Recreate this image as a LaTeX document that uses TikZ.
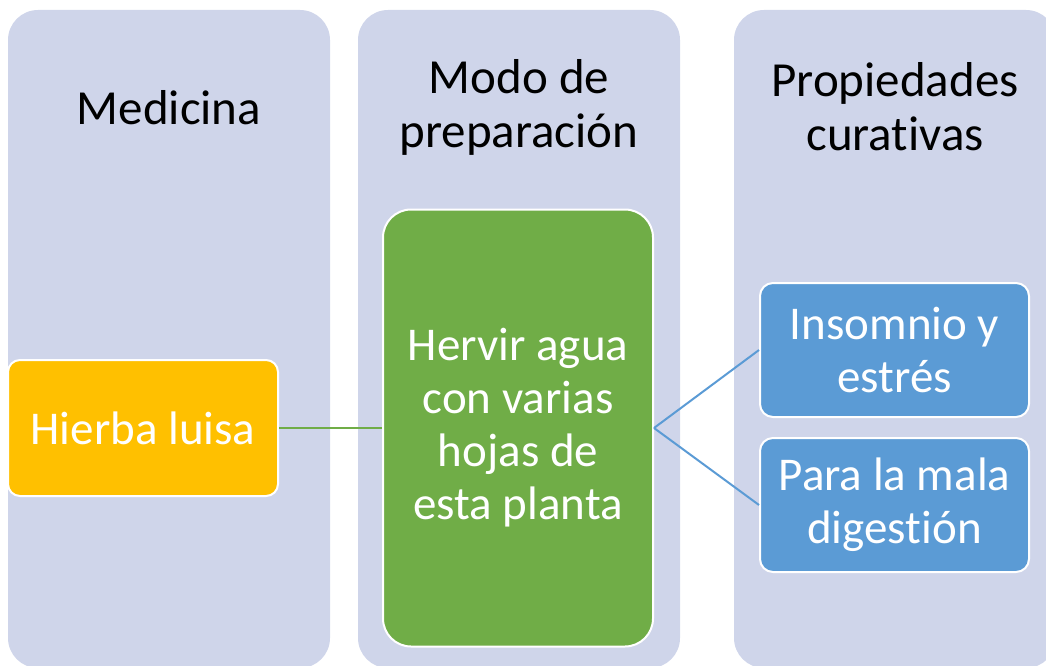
\documentclass[tikz,border=0pt]{standalone}
\usepackage{fontspec}
\setmainfont[Ligatures={NoCommon}]{Carlito}
\definecolor{colbg}{HTML}{CFD5EA}
\definecolor{yel}{HTML}{FFC000}
\definecolor{grn}{HTML}{70AD47}
\definecolor{blu}{HTML}{5B9BD5}
\tikzset{
  column/.style={fill=colbg, draw=none, rounded corners=30pt},
  header/.style={align=center, text=black, font=\fontsize{49}{54}\selectfont, inner sep=0pt},
  box/.style={draw=white, line width=2pt, align=center, text=white,
    font=\fontsize{47}{53}\selectfont, inner sep=0pt, minimum width=270pt},
  yelbox/.style={box, fill=yel, rounded corners=12pt, minimum height=136pt},
  grnbox/.style={box, fill=grn, rounded corners=28pt, minimum height=437pt},
  blubox/.style={box, fill=blu, rounded corners=13pt, minimum width=269pt, minimum height=134pt},
  link/.style={line width=2pt}
}
\begin{document}
\begin{tikzpicture}[x=1pt,y=-1pt]
\useasboundingbox (0,0) rectangle (1046,666);
\clip (0,0) rectangle (1046,666);
\fill[column] (8,10) rectangle (330,668);
\fill[column] (358,10) rectangle (680,668);
\fill[column] (734,10) rectangle (1056,668);
\node[header] (h1) at (169,108) {Medicina};
\node[header] (h2) at (519,107) {Modo de\\preparación};
\node[header] (h3) at (895,107) {Propiedades\\curativas};
\node[yelbox] (hl) at (143,428) {Hierba luisa};
\node[grnbox] (gb) at (518,428) {Hervir agua\\con varias\\hojas de\\esta planta};
\node[blubox] (b1) at (894.5,350) {Insomnio y\\estrés};
\node[blubox] (b2) at (894.5,505) {Para la mala\\digestión};
\draw[link, grn] (hl.east) -- (gb.west);
\draw[link, blu] (gb.east) -- (b1.west);
\draw[link, blu] (gb.east) -- (b2.west);
\end{tikzpicture}
\end{document}
